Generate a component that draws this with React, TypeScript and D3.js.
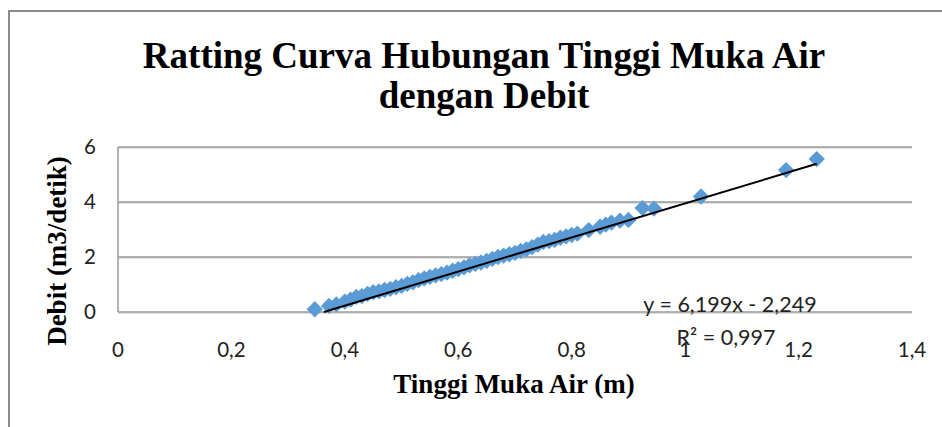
import * as d3 from "d3";

const tinggi = [
  0.347, 0.372, 0.385, 0.4, 0.41, 0.42, 0.43, 0.44, 0.45, 0.46, 0.47, 0.48, 0.49, 0.5, 0.51, 0.52, 0.53, 0.54, 0.55,
  0.56, 0.57, 0.58, 0.59, 0.6, 0.61, 0.62, 0.63, 0.64, 0.65, 0.66, 0.67, 0.68, 0.69, 0.7, 0.71, 0.72, 0.73, 0.74,
  0.75, 0.76, 0.77, 0.78, 0.79, 0.8, 0.81, 0.83, 0.85, 0.86, 0.87, 0.885, 0.9, 0.925, 0.945, 1.028, 1.178, 1.232,
];
const debit = [
  0.1, 0.22, 0.28, 0.38, 0.45, 0.55, 0.58, 0.66, 0.72, 0.75, 0.8, 0.84, 0.9, 0.95, 1.02, 1.08, 1.16, 1.22, 1.28,
  1.33, 1.38, 1.43, 1.5, 1.56, 1.62, 1.7, 1.75, 1.8, 1.86, 1.93, 2.0, 2.05, 2.1, 2.15, 2.22, 2.28, 2.36, 2.45,
  2.55, 2.58, 2.62, 2.7, 2.75, 2.8, 2.85, 2.98, 3.1, 3.18, 3.25, 3.32, 3.35, 3.78, 3.76, 4.2, 5.16, 5.56,
];
const xTicks = [0, 0.2, 0.4, 0.6, 0.8, 1, 1.2, 1.4];
const yTicks = [0, 2, 4, 6];
const slope = 6.199;
const intercept = -2.249;

const fmt = (v: number) => String(v).replace(".", ",");

export default function App() {
  const x = d3.scaleLinear().domain([0, 1.4]).range([118, 912]);
  const y = d3.scaleLinear().domain([0, 6]).range([312, 147]);

  // trendline spans the data, clipped at the bottom of the plot (y = 0)
  const x0 = Math.max(d3.min(tinggi) as number, -intercept / slope);
  const x1 = d3.max(tinggi) as number;
  const trend = d3.line<number>().x((d) => x(d)).y((d) => y(slope * d + intercept));
  const diamond = d3.symbol().type(d3.symbolDiamond2).size(170)();

  const serif = "'Liberation Serif', 'Times New Roman', serif";
  const sans = "Lato, 'Open Sans', sans-serif";

  return (
    <svg width={942} height={427} style={{ position: "absolute", left: 0, top: 0, background: "#fff" }}>
      <rect x={9} y={11} width={960} height={440} fill="#fff" stroke="#8c8c8c" strokeWidth={2} />
      <text x={484} y={68} textAnchor="middle" fontFamily={serif} fontWeight="bold" fontSize={37}>
        Ratting Curva Hubungan Tinggi Muka Air
      </text>
      <text x={484} y={108} textAnchor="middle" fontFamily={serif} fontWeight="bold" fontSize={37}>
        dengan Debit
      </text>

      {yTicks.map((t) => (
        <g key={t}>
          <line x1={x(0)} x2={x(1.4)} y1={y(t) + 1} y2={y(t) + 1} stroke="#d9d9d9" strokeWidth={1.5} />
          <line x1={x(0)} x2={x(1.4)} y1={y(t)} y2={y(t)} stroke="#9a9a9a" strokeWidth={1.5} />
          <text x={96} y={y(t)} dy="0.35em" textAnchor="end" fontFamily={sans} fontSize={20.5} fill="#222">
            {t}
          </text>
        </g>
      ))}
      <line x1={x(0)} x2={x(0)} y1={y(6)} y2={y(0)} stroke="#9a9a9a" strokeWidth={1.5} />

      {xTicks.map((t) => (
        <text key={t} x={x(t)} y={357} textAnchor="middle" fontFamily={sans} fontSize={20.5} fill="#222">
          {fmt(t)}
        </text>
      ))}

      {tinggi.map((t, i) => (
        <path key={i} d={diamond as string} transform={`translate(${x(t)},${y(debit[i])})`} fill="#5b9bd5" />
      ))}
      <path d={trend([x0, x1]) as string} fill="none" stroke="#000" strokeWidth={2} />

      <text x={730} y={312} textAnchor="middle" fontFamily={sans} fontSize={21.5} fill="#222">
        y = 6,199x - 2,249
      </text>
      <text x={726} y={345} textAnchor="middle" fontFamily={sans} fontSize={21.5} fill="#222">
        R² = 0,997
      </text>

      <text x={514} y={393} textAnchor="middle" fontFamily={serif} fontWeight="bold" fontSize={27}>
        Tinggi Muka Air (m)
      </text>
      <text
        transform="translate(66,251) rotate(-90)"
        textAnchor="middle"
        fontFamily={serif}
        fontWeight="bold"
        fontSize={27}
      >
        Debit (m3/detik)
      </text>
    </svg>
  );
}
